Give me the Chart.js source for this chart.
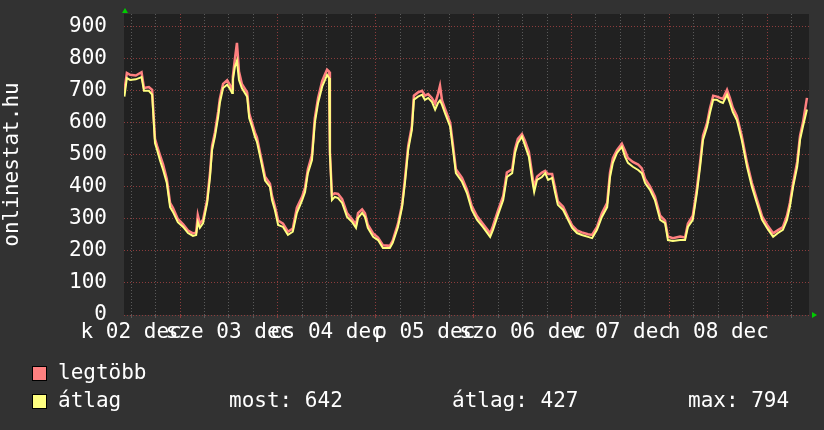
<!DOCTYPE html>
<html>
<head>
<meta charset="utf-8">
<script src="https://cdn.jsdelivr.net/npm/chart.js@4"></script>
<style>
html, body { margin: 0; padding: 0; background: #323232; }
#wrap { position: relative; width: 824px; height: 430px; }
canvas { position: absolute; left: 0; top: 0; }
.lg { position: absolute; font: 21px "DejaVu Sans Mono", monospace; line-height: 21px; color: #fff; white-space: pre; }
.sq { position: absolute; width: 13px; height: 13px; border: 1px solid #000; }
</style>
</head>
<body>
<div id="wrap">
  <canvas id="myChart" width="824" height="430"></canvas>
  <div class="sq" style="left:32px;top:366px;background:#ff8080"></div>
  <div class="lg" style="left:58px;top:362px">legtöbb</div>
  <div class="sq" style="left:32px;top:394px;background:#ffff80"></div>
  <div class="lg" style="left:58px;top:390px">átlag</div>
  <div class="lg" style="left:229px;top:390px">most: 642</div>
  <div class="lg" style="left:452px;top:390px">átlag: 427</div>
  <div class="lg" style="left:688px;top:390px">max: 794</div>
</div>
<script>
// hours since the left edge of the graph
const hours = [0.1, 0.7, 1.5, 2.9, 4.3, 4.9, 6.1, 6.9, 7.6, 8.1, 8.8, 9.6, 10.5, 11.3, 12.0, 13.2, 14.5, 15.7, 16.9, 17.7,
  18.1, 18.6, 19.4, 20.4, 21.1, 21.6, 22.3, 23.1, 23.5, 24.3, 25.3, 26.0, 26.5, 26.7, 27.2, 27.7, 28.2, 28.9, 30.2, 30.7,
  31.4, 32.1, 32.6, 33.4, 34.6, 35.8, 36.3, 37.0, 37.8, 39.0, 40.2, 41.4, 42.4, 43.7, 44.4, 45.1, 46.1, 46.8, 47.6, 48.6,
  49.3, 49.8, 50.3, 50.5, 51.0, 51.7, 52.5, 53.5, 54.7, 55.9, 56.9, 57.4, 58.4, 59.1, 59.8, 61.1, 62.3, 63.5, 65.2, 65.9,
  67.2, 68.2, 68.9, 69.7, 70.6, 71.1, 72.1, 73.1, 73.8, 74.6, 75.5, 76.3, 77.0, 77.5, 78.0, 78.7, 80.0, 80.7, 81.4, 82.9,
  84.1, 85.3, 86.6, 88.0, 89.8, 90.5, 91.7, 93.0, 93.9, 95.2, 95.9, 96.6, 97.6, 98.3, 99.3, 100.1, 100.6, 101.3, 102.5, 103.3,
  104.0, 105.0, 105.7, 106.4, 107.7, 108.9, 109.9, 111.1, 112.3, 113.8, 114.8, 116.0, 117.2, 118.5, 119.2, 119.9, 120.9, 122.1, 122.9, 123.6,
  124.8, 126.1, 127.0, 127.8, 129.0, 130.2, 131.5, 132.7, 133.4, 134.6, 136.4, 137.6, 138.3, 139.5, 140.5, 141.3, 142.0, 143.0, 143.7, 144.5,
  145.4, 146.2, 146.9, 147.9, 148.6, 149.3, 150.3, 151.5, 152.8, 154.0, 155.2, 156.5, 157.7, 159.2, 160.4, 161.6, 162.6, 163.3, 164.1, 165.1,
  165.8, 166.5, 167.5];

const atlag = [682, 740, 734, 736, 743, 700, 700, 688, 537, 516, 484, 453, 412, 337, 322, 290, 275, 256, 247, 250,
  290, 272, 287, 350, 431, 516, 557, 619, 662, 709, 719, 706, 693, 734, 775, 794, 734, 709, 682, 615,
  588, 557, 541, 494, 420, 400, 359, 328, 281, 275, 250, 260, 319, 359, 384, 443, 484, 600, 662, 713,
  734, 750, 740, 506, 359, 369, 365, 350, 306, 291, 272, 303, 319, 306, 272, 244, 234, 209, 209, 225,
  275, 337, 412, 516, 578, 672, 682, 688, 672, 678, 666, 641, 662, 670, 656, 631, 588, 516, 443, 416,
  381, 328, 297, 275, 244, 266, 312, 359, 431, 443, 506, 537, 557, 531, 494, 422, 384, 422, 431, 443,
  422, 428, 384, 344, 328, 297, 272, 256, 250, 244, 240, 266, 306, 337, 431, 475, 506, 525, 494, 475,
  463, 453, 443, 412, 391, 359, 297, 287, 234, 231, 234, 234, 275, 297, 381, 463, 547, 588, 631, 672,
  672, 666, 662, 688, 662, 634, 609, 547, 463, 400, 350, 297, 272, 244, 256, 266, 297, 337, 400, 463,
  547, 588, 642];

const legtobb = [700, 756, 750, 748, 758, 709, 712, 703, 550, 528, 500, 470, 425, 350, 335, 300, 283, 264, 255, 258,
  312, 285, 298, 360, 445, 528, 570, 635, 675, 722, 733, 718, 705, 745, 800, 850, 760, 722, 695, 630,
  600, 570, 555, 505, 432, 410, 372, 340, 295, 285, 260, 270, 335, 370, 398, 455, 500, 615, 678, 730,
  752, 766, 760, 510, 375, 380, 378, 362, 318, 300, 282, 318, 330, 318, 282, 255, 242, 218, 216, 232,
  285, 345, 425, 528, 590, 685, 695, 700, 685, 690, 678, 660, 690, 716, 670, 645, 600, 530, 455, 428,
  392, 340, 308, 285, 255, 278, 325, 372, 445, 455, 518, 550, 565, 545, 510, 440, 398, 432, 445, 450,
  440, 440, 398, 355, 338, 305, 280, 264, 258, 252, 250, 275, 318, 350, 445, 490, 515, 535, 512, 490,
  478, 470, 458, 425, 402, 370, 310, 295, 245, 240, 245, 242, 285, 310, 395, 478, 560, 600, 645, 685,
  682, 678, 675, 703, 678, 648, 622, 560, 475, 412, 362, 308, 282, 255, 265, 275, 310, 350, 412, 478,
  560, 600, 678];

const dayLabels = ['k 02 dec', 'sze 03 dec', 'cs 04 dec', 'p 05 dec', 'szo 06 dec', 'v 07 dec', 'h 08 dec'];
const yTicks = [0, 100, 200, 300, 400, 500, 600, 700, 800, 900];

const font = { family: 'DejaVu Sans Mono', size: 21 };
const minorGrid = '#5a5a5a';
const majorGrid = '#8c3c3c';

const plotBg = {
  id: 'plotBg',
  beforeDraw(chart) {
    const { ctx, chartArea: a } = chart;
    ctx.save();
    ctx.fillStyle = '#212121';
    ctx.fillRect(a.left, a.top, a.right - a.left, a.bottom - a.top);
    ctx.restore();
  },
  afterDraw(chart) {
    const { ctx, chartArea: a } = chart;
    ctx.save();
    ctx.fillStyle = '#00cc00';
    ctx.beginPath();
    ctx.moveTo(a.left + 1, a.top - 6);
    ctx.lineTo(a.left - 2, a.top - 1);
    ctx.lineTo(a.left + 4, a.top - 1);
    ctx.fill();
    ctx.beginPath();
    ctx.moveTo(a.right + 8, a.bottom);
    ctx.lineTo(a.right + 3, a.bottom - 3);
    ctx.lineTo(a.right + 3, a.bottom + 3);
    ctx.fill();
    ctx.restore();
  }
};

function noPad(axis) {
  axis.paddingTop = 0;
  axis.paddingBottom = 0;
  axis.paddingLeft = 0;
  axis.paddingRight = 0;
}

const ctx1 = document.getElementById('myChart').getContext('2d');
new Chart(ctx1, {
  type: 'line',
  data: {
    datasets: [{
      label: 'átlag',
      data: hours.map((h, i) => ({ x: h, y: atlag[i] })),
      borderColor: '#ffff80',
      borderWidth: 2,
      pointRadius: 0,
      tension: 0
    }, {
      label: 'legtöbb',
      data: hours.map((h, i) => ({ x: h, y: legtobb[i] })),
      borderColor: '#ff8080',
      borderWidth: 2.5,
      pointRadius: 0,
      tension: 0
    }]
  },
  options: {
    responsive: false,
    animation: false,
    layout: { padding: { left: 0, right: 15, top: 14, bottom: 85 } },
    plugins: { legend: { display: false }, tooltip: { enabled: false } },
    scales: {
      x: {
        type: 'linear',
        min: 0,
        max: 168,
        afterBuildTicks: (axis) => {
          const t = [];
          for (let v = 1.75; v < 168; v += 6) t.push({ value: v });
          axis.ticks = t;
        },
        afterFit: (axis) => { axis.height = 30; noPad(axis); },
        ticks: {
          autoSkip: false,
          maxRotation: 0,
          minRotation: 0,
          color: '#ffffff',
          font: font,
          padding: 2,
          callback: (v, i) => (i % 4 === 0 ? dayLabels[i / 4] : '')
        },
        grid: {
          color: (c) => (c.index % 4 === 2 ? majorGrid : minorGrid),
          tickLength: 3,
          lineWidth: 1
        },
        border: { display: false, dash: [1, 2] }
      },
      y: {
        min: 0,
        max: 940,
        afterBuildTicks: (axis) => {
          const t = [];
          for (let v = 0; v <= 940; v += 20) t.push({ value: v });
          axis.ticks = t;
        },
        afterFit: (axis) => { axis.width = 124; noPad(axis); },
        ticks: {
          color: '#ffffff',
          font: font,
          padding: 17,
          callback: (v) => (yTicks.includes(v) ? String(v) : '')
        },
        grid: {
          color: (c) => (c.tick && c.tick.value % 100 === 0 ? majorGrid : minorGrid),
          drawTicks: false,
          lineWidth: 1
        },
        border: { display: false, dash: [1, 2] },
        title: {
          display: true,
          text: 'onlinestat.hu',
          color: '#ffffff',
          font: font,
          padding: 0
        }
      }
    }
  },
  plugins: [plotBg]
});
</script>
</body>
</html>
